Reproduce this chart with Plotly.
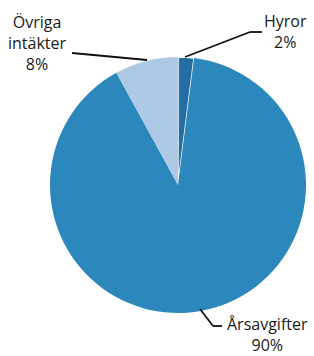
import plotly.graph_objects as go

# Data
labels = ["Hyror", "Årsavgifter", "Övriga intäkter"]
values = [2, 90, 8]
label_texts = ["Hyror<br>2%", "Årsavgifter<br>90%", "Övriga<br>intäkter<br>8%"]
colors = ["#246ea3", "#2b87bc", "#adc9e6"]

W, H = 314, 356

def px(x, y):
    return x / W, 1 - y / H

fig = go.Figure()
fig.add_trace(go.Pie(
    labels=labels,
    values=values,
    sort=False,
    direction="clockwise",
    rotation=0,
    textinfo="none",
    hoverinfo="label+percent",
    marker=dict(colors=colors, line=dict(color="white", width=[1.5, 0, 0])),
    domain=dict(x=[50 / W, 306 / W], y=[43 / H, 299 / H]),
    showlegend=False,
))

font = dict(family="Open Sans, Noto Sans, sans-serif", size=16, color="#1a1a1a")
anns = []
# label positions (pixel centres)
label_pos = [(285, 31), (267, 334), (37, 43)]
for txt, (x, y) in zip(label_texts, label_pos):
    ax, ay = px(x, y)
    anns.append(dict(x=ax, y=ay, xref="paper", yref="paper", text=txt,
                     showarrow=False, xanchor="center", yanchor="middle",
                     align="center", font=font, borderpad=0))

leaders = [
    [(185, 57), (250, 32), (262, 32)],
    [(200, 309), (213, 326), (222, 326)],
    [(72, 53), (147, 60)],
]
shapes = []
for pts in leaders:
    for (x0, y0), (x1, y1) in zip(pts[:-1], pts[1:]):
        a0, b0 = px(x0, y0)
        a1, b1 = px(x1, y1)
        shapes.append(dict(type="line", xref="paper", yref="paper",
                           x0=a0, y0=b0, x1=a1, y1=b1,
                           line=dict(color="#111111", width=1.8)))

fig.update_layout(
    width=W, height=H,
    margin=dict(l=0, r=0, t=0, b=0),
    paper_bgcolor="white",
    plot_bgcolor="white",
    annotations=anns,
    shapes=shapes,
)

fig.write_html("out.html", config={"displayModeBar": False},
               post_script="document.body.style.margin='0';document.body.style.overflow='hidden';")
